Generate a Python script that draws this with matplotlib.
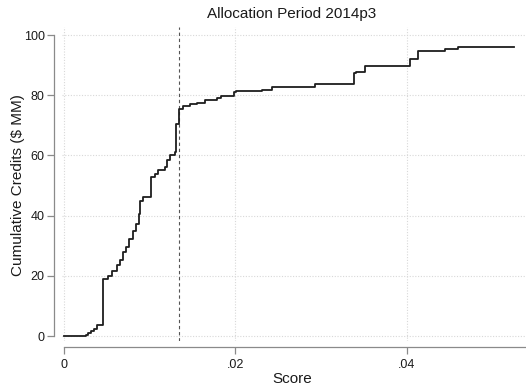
import matplotlib
matplotlib.use("Agg")
import matplotlib.pyplot as plt
import numpy as np

plt.rcParams['font.family'] = ['Liberation Sans', 'DejaVu Sans']

title = "Allocation Period 2014p3"
xlabel = "Score"
ylabel = "Cumulative Credits ($ MM)"

score = [0.0, 0.00257, 0.0028, 0.00315, 0.0035, 0.00385, 0.0045, 0.0051, 0.00566,
         0.0062, 0.00654, 0.0069, 0.00724, 0.0076, 0.00805, 0.00846, 0.0087, 0.00887,
         0.00928, 0.0101, 0.01062, 0.01103, 0.01179, 0.01202, 0.01237, 0.01296,
         0.01313, 0.01346, 0.01389, 0.0147, 0.01552, 0.01646, 0.0178, 0.01833,
         0.01979, 0.02008, 0.02311, 0.02422, 0.02924, 0.03379, 0.03408, 0.03508,
         0.04033, 0.04132, 0.04447, 0.04593, 0.0525]
credits = [0.0, 0.4, 0.9, 1.5, 2.3, 3.5, 18.8, 20.0, 21.5,
           23.5, 25.2, 27.8, 29.5, 32.3, 35.0, 37.2, 40.5, 44.8,
           46.3, 52.8, 53.7, 55.2, 56.2, 58.5, 60.2, 61.3,
           70.5, 75.6, 76.4, 77.0, 77.4, 78.4, 79.2, 79.9,
           81.0, 81.5, 81.8, 82.8, 83.7, 87.3, 87.9, 89.6,
           91.9, 94.8, 95.3, 96.0, 96.0]
cutoff = 0.01346
xticks = [0, 0.02, 0.04]
xticklabels = ["0", ".02", ".04"]
yticks = [0, 20, 40, 60, 80, 100]

W, H = 526, 387
fig = plt.figure(figsize=(W/100, H/100), dpi=100)
L, R, T, B = 62, 525, 27, 341
ax = fig.add_axes([L/W, (H-B)/H, (R-L)/W, (B-T)/H])

ax.set_xlim(-0.00023, 0.0538)
ax.set_ylim(-1.66, 102.7)

ax.grid(True, linestyle=(0, (1, 1.5)), color='#d8d8d8', linewidth=0.8)
ax.set_axisbelow(True)
ax.axvline(cutoff, color='#555555', linestyle=(0, (3, 2.5)), linewidth=0.8)
ax.step(score, credits, where='post', color='#1e1e1e', linewidth=1.3)

for s in ['top', 'right']:
    ax.spines[s].set_visible(False)
ax.spines['left'].set_position(('outward', 6))
ax.spines['bottom'].set_position(('outward', 4))
ax.spines['left'].set_bounds(0, 100)
ax.spines['bottom'].set_bounds(0, 0.0538)
for s in ['left', 'bottom']:
    ax.spines[s].set_color('#8a8a8a')
    ax.spines[s].set_linewidth(0.9)

ax.set_xticks(xticks)
ax.set_xticklabels(xticklabels)
ax.set_yticks(yticks)
ax.tick_params(axis='both', colors='#8a8a8a', labelcolor='#1a1a1a', labelsize=9,
               length=5, width=0.9, direction='out')
ax.tick_params(axis='x', pad=4)
ax.tick_params(axis='y', pad=1.5)

fig.text(292/W, 1 - 379/H, xlabel, fontsize=11, color='#1a1a1a', ha='center', va='center')
fig.text(18/W, 1 - 185/H, ylabel, fontsize=11, color='#1a1a1a', ha='center', va='center',
         rotation=90)
fig.text(292/W, 1 - 14/H, title, fontsize=11, color='#1a1a1a', ha='center', va='center')

fig.savefig("out.png", dpi=100, facecolor='white')
